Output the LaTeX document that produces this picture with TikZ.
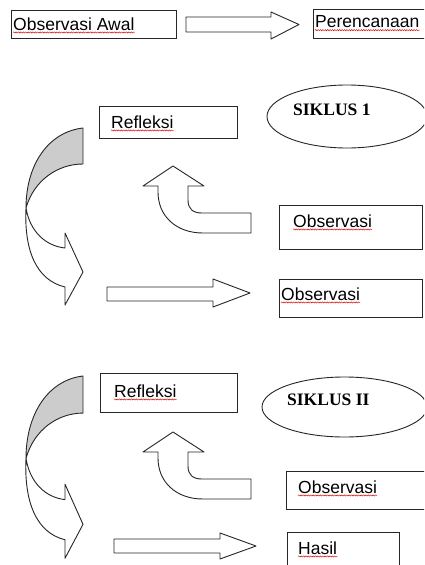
\documentclass[tikz,border=0pt]{standalone}
\usepackage{fontspec}
\setmainfont{Liberation Sans}
\newfontfamily\siklusfont{Liberation Serif}
\usetikzlibrary{shapes.geometric,decorations.pathmorphing}
\newcommand\curvedarrowshape{%
  \filldraw[blk, fill=black!20] (83,0) .. controls (48,4) and (26,37) .. (26,80)
     .. controls (34,52) and (58,36) .. (83,36) -- cycle;
  \filldraw[blk] (26,80) .. controls (30,104) and (46,118) .. (65,120) -- (65,105)
     -- (83,144) -- (65,177) -- (65,159) .. controls (36,152) and (24,122) .. (26,80) -- cycle;
}
\newcommand\bentuparrowshape{%
  \filldraw[blk] (173,0) -- (204,20) -- (188,20) -- (188,34)
     .. controls (188,43) and (193,47) .. (202,47) -- (251,47) -- (251,67) -- (203,67)
     .. controls (176,67) and (158,50) .. (158,26) -- (158,20) -- (143,20) -- cycle;
}
\begin{document}
\begin{tikzpicture}[x=1pt,y=-1pt,
  box/.style={draw=black!85, line width=0.9pt, inner sep=0pt, anchor=north west},
  oval/.style={draw=black!85, line width=0.9pt, ellipse, inner sep=0pt},
  lbl/.style={inner sep=0pt, anchor=west, font=\fontsize{17.5}{20}\selectfont},
  sik/.style={inner sep=0pt, anchor=west, font=\siklusfont\bfseries\fontsize{17.5}{20}\selectfont},
  squig/.style={draw=red!85!black, line width=0.45pt, decorate, decoration={snake, amplitude=0.6pt, segment length=2.4pt}},
  blk/.style={draw=black!85, line width=0.9pt, fill=white, line join=round},
]
\clip (0,0) rectangle (424,565);
\fill[white] (0,0) rectangle (424,565);

% top row
\node[box, minimum width=165pt, minimum height=28pt] (bawal) at (11,10) {};
\node[lbl] (tawal) at (13,24) {Observasi Awal};
\node[box, minimum width=120pt, minimum height=29pt] (bren) at (313,9) {};
\node[lbl] (tren) at (315,22) {Perencanaan};
\filldraw[blk] (186,17) -- (271,17) -- (271,12) -- (299,24.5) -- (271,39) -- (271,32) -- (186,32) -- cycle;

% cycle 1
\node[box, minimum width=138pt, minimum height=32pt] (bref1) at (99,106) {};
\node[lbl] (tref1) at (111,122) {Refleksi};
\node[oval, minimum width=160pt, minimum height=63pt] (sik1) at (347,116.5) {};
\node[sik] (tsik1) at (293,110) {SIKLUS 1};
\node[box, minimum width=143pt, minimum height=44pt] (bobs1) at (279,205) {};
\node[lbl] (tobs1) at (293,221) {Observasi};
\node[box, minimum width=143pt, minimum height=38pt] (bobs2) at (279,279) {};
\node[lbl] (tobs2) at (281,294) {Observasi};
\begin{scope}[shift={(0,128)}]
  \curvedarrowshape
\end{scope}
\begin{scope}[shift={(0,166)}]
  \bentuparrowshape
\end{scope}
\filldraw[blk] (107,287) -- (213,287) -- (213,279) -- (250,293) -- (213,307) -- (213,301) -- (107,301) -- cycle;

% cycle 2
\node[box, minimum width=137pt, minimum height=39pt] (bref2) at (100,373) {};
\node[lbl] (tref2) at (114,391) {Refleksi};
\node[oval, minimum width=165pt, minimum height=60pt] (sik2) at (344.5,407) {};
\node[sik] (tsik2) at (287,400) {SIKLUS II};
\node[box, minimum width=145pt, minimum height=38pt] (bobs3) at (286,471) {};
\node[lbl] (tobs3) at (298,487) {Observasi};
\node[box, minimum width=112pt, minimum height=40pt] (bhasil) at (287,532) {};
\node[lbl] (thasil) at (298,548) {Hasil};
\begin{scope}[shift={(0,376)}, yscale=1.03]
  \curvedarrowshape
\end{scope}
\begin{scope}[shift={(0,432)}]
  \bentuparrowshape
\end{scope}
\filldraw[blk] (114,539) -- (220,539) -- (220,533) -- (256,546) -- (220,559) -- (220,553) -- (114,553) -- cycle;

% spelling underlines
\foreach \t in {tawal,tren,tref1,tobs1,tobs2,tref2,tobs3,thasil}{
  \draw[squig] ([yshift=-2.2pt]\t.base west) -- ([yshift=-2.2pt]\t.base east);
}
\end{tikzpicture}
\end{document}
